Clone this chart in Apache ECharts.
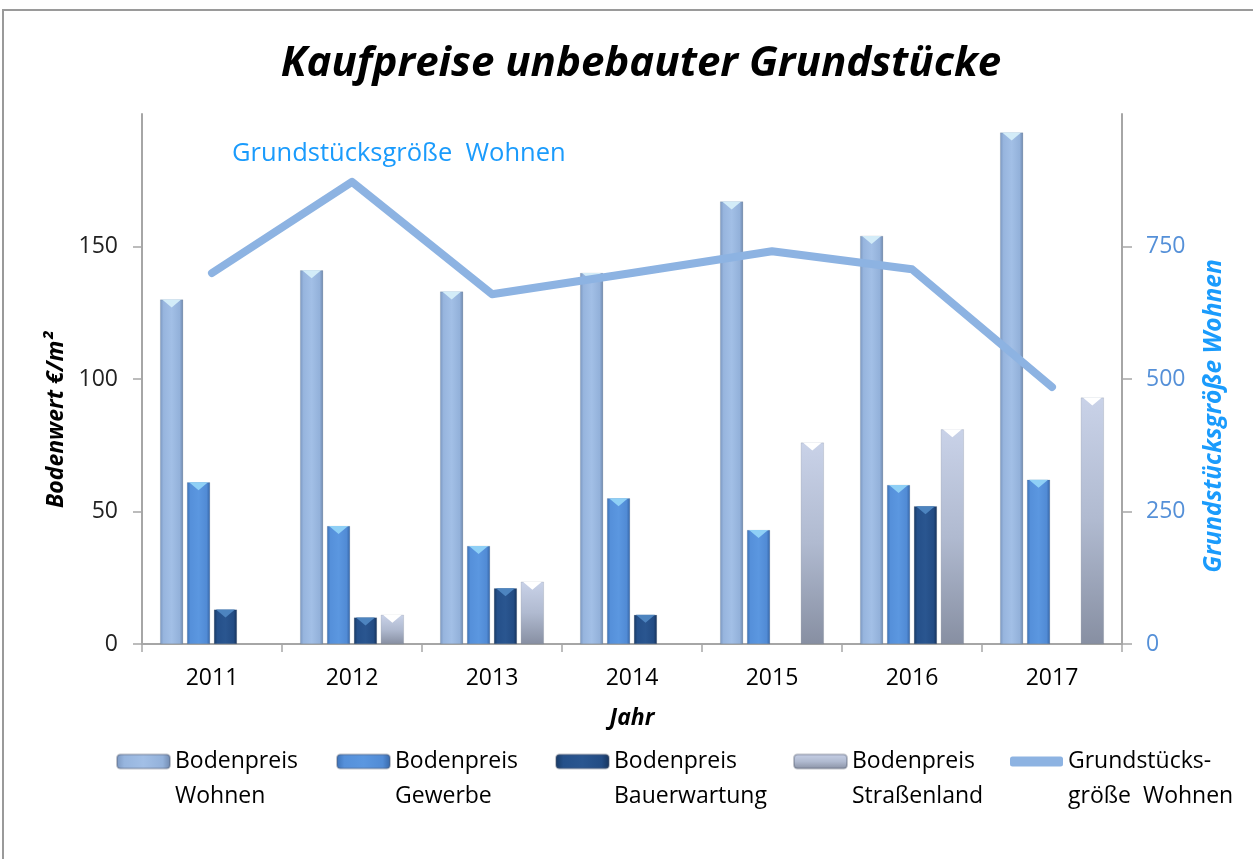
<!DOCTYPE html>
<html>
<head>
<meta charset="utf-8">
<script src="https://cdn.jsdelivr.net/npm/echarts@6/dist/echarts.min.js"></script>
<style>
html,body{margin:0;padding:0;background:#fff;}
#chart{width:1253px;height:859px;}
</style>
</head>
<body>
<div id="chart"></div>
<script>
const years = ['2011','2012','2013','2014','2015','2016','2017'];
const wohnen = [130, 141, 133, 140, 167, 154, 193];
const gewerbe = [61, 44.5, 37, 55, 43, 60, 62];
const bauerwartung = [13, 10, 21, 11, null, 52, null];
const strassenland = [null, 11, 23.5, null, 76, 81, 93];
const groesse = [700, 872, 660, 700, 741, 707, 485];
const leftTicks = [0, 50, 100, 150];
const rightTicks = [0, 250, 500, 750];

const FONT = '"Open Sans", "Noto Sans", sans-serif';
const names = ['Bodenpreis Wohnen','Bodenpreis Gewerbe','Bodenpreis Bauerwartung','Bodenpreis Straßenland','Grundstücksgröße Wohnen'];
const legendText = {
  'Bodenpreis Wohnen':'Bodenpreis\nWohnen',
  'Bodenpreis Gewerbe':'Bodenpreis\nGewerbe',
  'Bodenpreis Bauerwartung':'Bodenpreis\nBauerwartung',
  'Bodenpreis Straßenland':'Bodenpreis\nStraßenland',
  'Grundstücksgröße Wohnen':'Grundstücks-\ngröße  Wohnen'
};
function hgrad(stops){
  return {type:'linear',x:0,y:0,x2:1,y2:0,colorStops:stops.map(s=>({offset:s[0],color:s[1]}))};
}
function vgrad(stops){
  return {type:'linear',x:0,y:0,x2:0,y2:1,colorStops:stops.map(s=>({offset:s[0],color:s[1]}))};
}
const colWohnen = hgrad([[0,'#7b97c0'],[0.15,'#97b5de'],[0.5,'#a2bfe6'],[0.85,'#93b1da'],[1,'#6e87ad']]);
const colGewerbe = hgrad([[0,'#3b70b6'],[0.15,'#5590da'],[0.5,'#5b97e0'],[0.85,'#518bd5'],[1,'#3565a6']]);
const colBauer = hgrad([[0,'#173862'],[0.15,'#25508a'],[0.5,'#2a5690'],[0.85,'#234c84'],[1,'#15325a']]);
const colStrasse = vgrad([[0,'#c9d2e8'],[0.5,'#b0bad0'],[1,'#878fa2']]);

const BW = 23, GAP = '17%';
function barSeries(name, data, color){
  return {name, type:'bar', data, barWidth:BW, barGap:GAP, itemStyle:{color, borderColor:'rgba(80,90,110,0.35)', borderWidth:0.5}, z:2};
}
function bevel(name, data, color){
  return {name, type:'pictorialBar', data, barWidth:BW, barGap:GAP, symbol:'path://M0,0L10,0L5,4Z',
    symbolSize:[BW-4, 8], symbolPosition:'end', symbolOffset:[0, 0], itemStyle:{color}, z:3, silent:true};
}
function legendFor(i, left, extra){
  return Object.assign({
    left, top: 709, padding:0, orient:'horizontal', selectedMode:false,
    data:[names[i]], itemWidth:53, itemHeight:14, itemGap:0,
    formatter: n => '\n' + legendText[n],
    textStyle:{fontFamily:FONT, fontSize:23, color:'#000', lineHeight:35}
  }, extra||{});
}

const chart = echarts.init(document.getElementById('chart'));
chart.setOption({
  animation:false,
  backgroundColor:'#fff',
  title:[
    {text:'Kaufpreise unbebauter Grundstücke', left:636, top:38, textAlign:'center',
     textStyle:{fontFamily:FONT, fontSize:42, fontWeight:'bold', fontStyle:'italic', color:'#000'}},
    {text:'Grundstücksgröße  Wohnen', left:232, top:141, padding:0,
     textStyle:{fontFamily:FONT, fontSize:25.5, fontWeight:'normal', color:'#1a9bfc'}}
  ],
  graphic:[{type:'rect', shape:{x:3, y:10, width:1400, height:1000}, style:{fill:'none', stroke:'#9a9a9a', lineWidth:2}, silent:true}],
  legend:[
    legendFor(0, 116),
    legendFor(1, 336),
    legendFor(2, 555),
    legendFor(3, 793),
    legendFor(4, 1010, {itemHeight:10, data:[{name:names[4], icon:'roundRect'}]})
  ],
  grid:{left:142, right:131, top:114, bottom:215, containLabel:false},
  xAxis:{
    type:'category', data:years,
    name:'Jahr', nameLocation:'middle', nameGap:63,
    nameTextStyle:{fontFamily:FONT, fontSize:23, fontWeight:'bold', fontStyle:'italic', color:'#000'},
    axisLine:{lineStyle:{color:'#a6a6a6', width:2}},
    axisTick:{show:true, length:8, lineStyle:{color:'#a6a6a6', width:1.5}},
    axisLabel:{fontFamily:FONT, fontSize:23, color:'#000', margin:23}
  },
  yAxis:[
    {type:'value', min:0, max:200, interval:50,
     name:'Bodenwert €/m²', nameLocation:'middle', nameRotate:90, nameGap:71,
     nameTextStyle:{fontFamily:FONT, fontSize:23, fontWeight:'bold', fontStyle:'italic', color:'#000', padding:[0,82,0,0]},
     axisLine:{show:true, lineStyle:{color:'#a6a6a6', width:2}},
     axisTick:{show:true, length:9, lineStyle:{color:'#a6a6a6', width:1.5}},
     splitLine:{show:false},
     axisLabel:{fontFamily:FONT, fontSize:23, color:'#222', margin:24, showMaxLabel:false,
       formatter: v => leftTicks.includes(v) ? String(v) : ''}
    },
    {type:'value', min:0, max:1000, interval:250, position:'right',
     name:'Grundstücksgröße Wohnen', nameLocation:'middle', nameRotate:90, nameGap:80,
     nameTextStyle:{fontFamily:FONT, fontSize:24.5, fontWeight:'bold', fontStyle:'italic', color:'#1a9bfc', padding:[0,74,0,0]},
     axisLine:{show:true, lineStyle:{color:'#a6a6a6', width:2}},
     axisTick:{show:true, length:10, lineStyle:{color:'#a6a6a6', width:1.5}},
     splitLine:{show:false},
     axisLabel:{fontFamily:FONT, fontSize:23, color:'#5590d8', margin:24, showMaxLabel:false,
       formatter: v => rightTicks.includes(v) ? String(v) : ''}
    }
  ],
  series:[
    barSeries(names[0], wohnen, colWohnen),
    barSeries(names[1], gewerbe, colGewerbe),
    barSeries(names[2], bauerwartung, colBauer),
    barSeries(names[3], strassenland, colStrasse),
    bevel('b1', wohnen, '#d3ecf8'),
    bevel('b2', gewerbe, '#8fd0f6'),
    bevel('b3', bauerwartung, '#4d84bf'),
    bevel('b4', strassenland, '#ffffff'),
    {name:names[4], type:'line', yAxisIndex:1, data:groesse, showSymbol:false, symbol:'none',
     lineStyle:{color:'#8db3e2', width:8, cap:'round', join:'round'}, itemStyle:{color:'#8db3e2'}, z:5}
  ]
});
</script>
</body>
</html>
